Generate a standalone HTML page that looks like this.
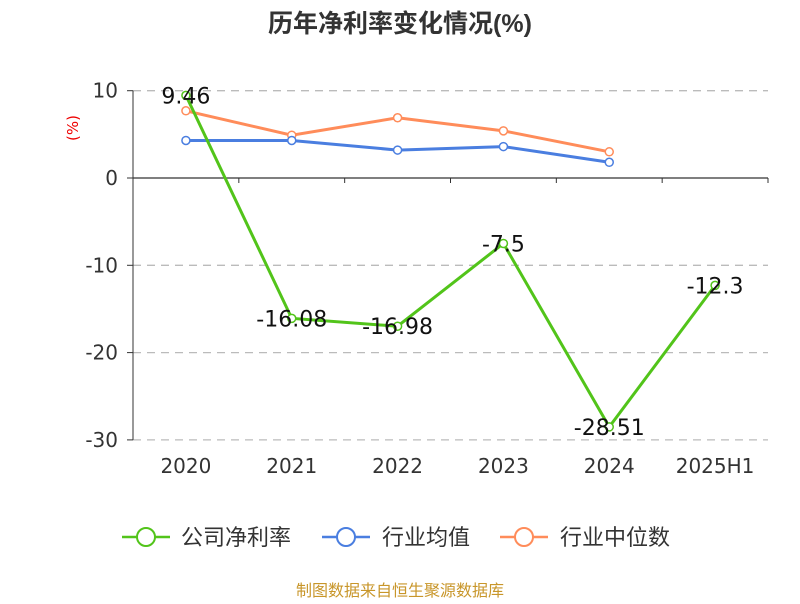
<!DOCTYPE html>
<html><head><meta charset="utf-8"><style>
body{margin:0;background:#fff;font-family:"DejaVu Sans","Noto Sans CJK SC",sans-serif}
</style></head><body>
<svg width="800" height="600" xmlns="http://www.w3.org/2000/svg">
<text x="400" y="32" text-anchor="middle" font-size="25" font-weight="bold" fill="#333" font-family="'Liberation Sans','Noto Sans CJK SC',sans-serif">历年净利率变化情况(%)</text>
<text x="78" y="128" font-size="15" fill="#e00" transform="rotate(-90 78 128)" text-anchor="middle">(%)</text>
<g id="grid"></g><g id="axes"></g><g id="series"></g>
<g font-size="22" fill="#333" font-family="'Liberation Sans','Noto Sans CJK SC',sans-serif">
<g><line x1="122" y1="537" x2="170" y2="537" stroke="#52c41a" stroke-width="2.5"/><circle cx="146" cy="537" r="9" fill="#fff" stroke="#52c41a" stroke-width="2"/><text x="181" y="545">公司净利率</text></g>
<g><line x1="322" y1="537" x2="370" y2="537" stroke="#4a7ee0" stroke-width="2.5"/><circle cx="346" cy="537" r="9" fill="#fff" stroke="#4a7ee0" stroke-width="2"/><text x="382" y="545">行业均值</text></g>
<g><line x1="500" y1="537" x2="548" y2="537" stroke="#ff8c5a" stroke-width="2.5"/><circle cx="524" cy="537" r="9" fill="#fff" stroke="#ff8c5a" stroke-width="2"/><text x="560" y="545">行业中位数</text></g>
</g>
<text x="400" y="596" text-anchor="middle" font-size="16" fill="#c8962a" font-family="'Liberation Sans','Noto Sans CJK SC',sans-serif">制图数据来自恒生聚源数据库</text>
</svg>
<script>
const categories=["2020","2021","2022","2023","2024","2025H1"];
const netMargin=[9.46,-16.08,-16.98,-7.5,-28.51,-12.3];
const industryAvg=[4.3,4.3,3.2,3.6,1.8];
const industryMedian=[7.7,4.9,6.9,5.4,3.0];
const yTicks=[10,0,-10,-20,-30];
const NS="http://www.w3.org/2000/svg";
const x0=133,x1=768,bw=(x1-x0)/categories.length;
const xs=i=>x0+bw*(i+0.5);
const ys=v=>178-v*8.73;
function mk(p,t,a){const e=document.createElementNS(NS,t);for(const k in a)e.setAttribute(k,a[k]);p.appendChild(e);return e;}
const grid=document.getElementById('grid'),axes=document.getElementById('axes'),ser=document.getElementById('series');
yTicks.forEach(v=>{
 if(v!==0){const l=mk(grid,'line',{x1:x0,x2:x1,y1:ys(v),y2:ys(v),stroke:'#bbb','stroke-dasharray':'8,6','stroke-width':1.3});
 
 }
 const t=mk(axes,'text',{x:118,y:ys(v)+7,'text-anchor':'end','font-size':20,fill:'#333'});t.textContent=v;
 
 
 mk(axes,'line',{x1:x0-6,x2:x0,y1:ys(v),y2:ys(v),stroke:'#333'});
});
const ya=mk(axes,'line',{x1:x0,x2:x0,y1:ys(10),y2:ys(-30),stroke:'#333'});


const xa=mk(axes,'line',{x1:x0,x2:x1,y1:ys(0),y2:ys(0),stroke:'#333','stroke-width':1.3});


for(let i=0;i<=categories.length;i++)mk(axes,'line',{x1:x0+bw*i,x2:x0+bw*i,y1:ys(0),y2:ys(0)+5,stroke:'#333'});
categories.forEach((c,i)=>{const t=mk(axes,'text',{x:xs(i),y:473,'text-anchor':'middle','font-size':20,fill:'#333'});t.textContent=c;
 
 });
function line(data,color,name,labels){
 const g=mk(ser,'g',{});
 
 
 mk(g,'polyline',{points:data.map((v,i)=>xs(i)+','+ys(v)).join(' '),fill:'none',stroke:color,'stroke-width':3});
 data.forEach((v,i)=>{const c=mk(g,'circle',{cx:xs(i),cy:ys(v),r:4,fill:'#fff',stroke:color,'stroke-width':1.5});
  
  
  if(labels){const t=mk(g,'text',{x:xs(i),y:ys(v)+8,'text-anchor':'middle','font-size':22,fill:'#111'});t.textContent=v;
  
  }
 });
}
line(industryMedian,'#ff8c5a','median-series',false);
line(industryAvg,'#4a7ee0','avg-series',false);
line(netMargin,'#52c41a','net-margin-series',true);
</script>
</body></html>
